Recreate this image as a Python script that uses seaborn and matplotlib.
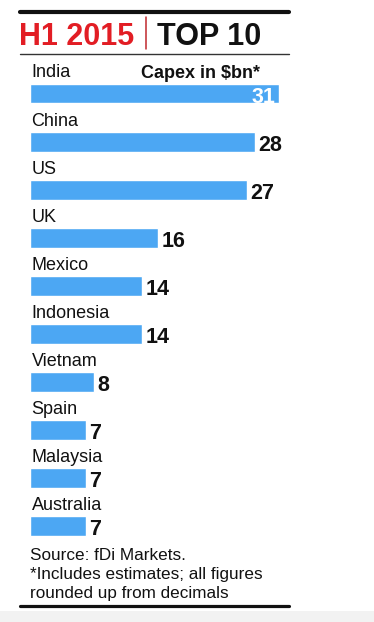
import matplotlib
matplotlib.use("Agg")
import matplotlib.pyplot as plt
import seaborn as sns
import pandas as pd
from matplotlib.patches import Rectangle
from matplotlib.lines import Line2D

# ---- data ----
countries = ["India", "China", "US", "UK", "Mexico", "Indonesia",
             "Vietnam", "Spain", "Malaysia", "Australia"]
capex = [31, 28, 27, 16, 14, 14, 8, 7, 7, 7]
title_left = "H1 2015"
title_right = "TOP 10"
value_header = "Capex in $bn*"
notes = ["Source: fDi Markets.",
         "*Includes estimates; all figures",
         "rounded up from decimals"]

W, H = 374, 622
sns.set_style("white")
plt.rcParams['font.family'] = ['Liberation Sans', 'DejaVu Sans']

fig = plt.figure(figsize=(W / 100, H / 100), dpi=100)
fig.patch.set_facecolor("white")


def fx(px):
    return px / W


def fy(py):
    return 1 - py / H


# ---- bars axes ----
px_per_unit = 8.03
step = 48.06
top_px = 93.5 - step
bot_px = 93.5 + 10 * step
ax = fig.add_axes([fx(30), fy(bot_px), (W - 30) / W, (bot_px - top_px) / H])
df = pd.DataFrame({"country": countries, "capex": capex})
sns.barplot(data=df, x="capex", y="country", orient="h", color="#4ca7f3",
            saturation=1, width=0.416, ax=ax)
ax.set_xlim(0, (W - 30) / px_per_unit)
ax.set_ylim(10, -1)
ax.axis("off")

u = 1 / px_per_unit  # one pixel in data units
for i, (c, v) in enumerate(zip(countries, capex)):
    ax.text(1.5 * u, i - 0.333, c, ha="left", va="baseline",
            fontsize=13, color="#111111", clip_on=False)
    if i == 0:
        ax.text(v - 4 * u, i + 0.19, str(v), ha="right", va="baseline",
                fontsize=15.5, fontweight="bold", color="white")
    else:
        ax.text(v + 3 * u, i + 0.19, str(v), ha="left", va="baseline",
                fontsize=15.5, fontweight="bold", color="#111111")

# header of values
fig.text(fx(260), fy(78), value_header, ha="right", va="baseline",
         fontsize=13, fontweight="bold", color="#111111")

# ---- title ----
fig.text(fx(19), fy(45), title_left, ha="left", va="baseline",
         fontsize=22, fontweight="bold", color="#e21d24")
fig.text(fx(157), fy(45), title_right, ha="left", va="baseline",
         fontsize=22, fontweight="bold", color="#111111")
fig.add_artist(Line2D([fx(146), fx(146)], [fy(17), fy(49)], lw=1.1,
                      color="#c0282d", transform=fig.transFigure))

# rules
fig.add_artist(Line2D([fx(20), fx(289)], [fy(11.5), fy(11.5)], lw=3.0,
                      color="#111111", transform=fig.transFigure))
fig.add_artist(Line2D([fx(20), fx(289)], [fy(54), fy(54)], lw=1.0,
                      color="#333333", transform=fig.transFigure))
fig.add_artist(Line2D([fx(20), fx(289)], [fy(605.5), fy(605.5)], lw=2.3,
                      color="#111111", transform=fig.transFigure))

# ---- notes ----
for line, base in zip(notes, [560, 579, 598]):
    fig.text(fx(30), fy(base), line, ha="left", va="baseline",
             fontsize=12.3, color="#111111")

# bottom grey strip
fig.add_artist(Rectangle((0, 0), 1, (H - 611) / H, transform=fig.transFigure,
                         facecolor="#f2f2f2", edgecolor="none"))

fig.savefig("out.png", dpi=100, facecolor="white")
